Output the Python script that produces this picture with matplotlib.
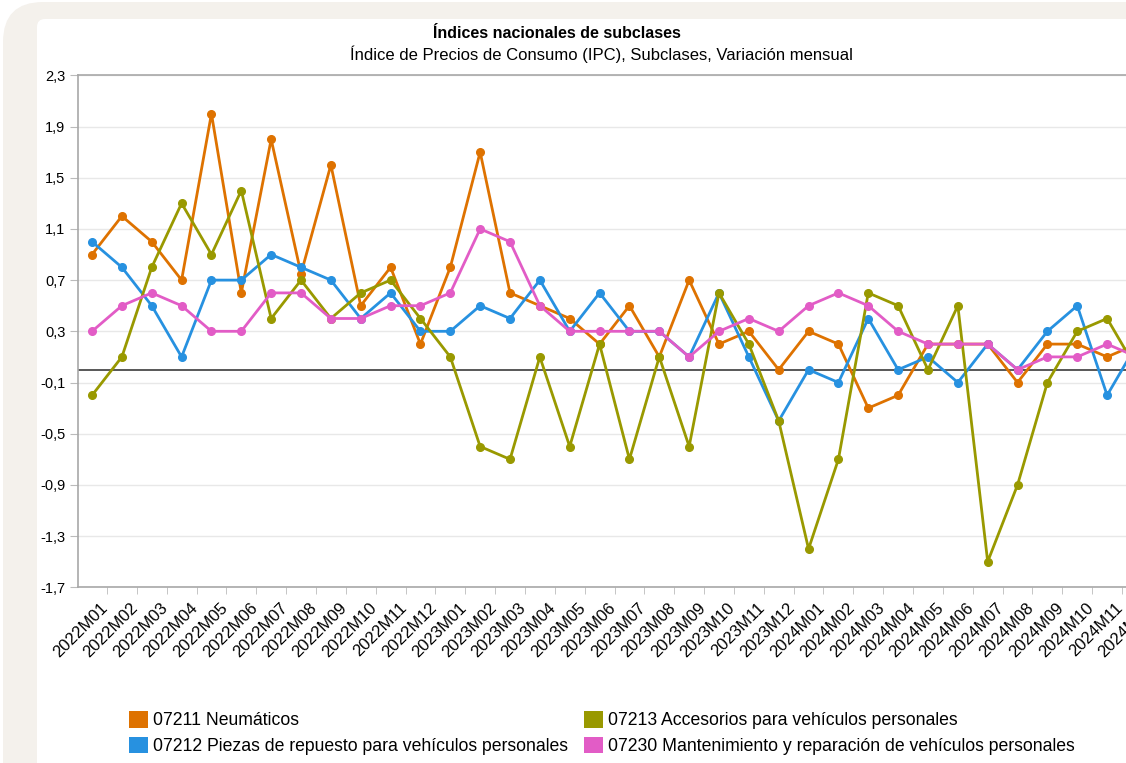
import numpy as np
import matplotlib
matplotlib.use("Agg")
import matplotlib.pyplot as plt
from matplotlib.patches import FancyBboxPatch, Patch
from matplotlib.transforms import IdentityTransform, ScaledTranslation

plt.rcParams['font.family'] = ['Liberation Sans', 'DejaVu Sans']

periodos = ['2022M01', '2022M02', '2022M03', '2022M04', '2022M05', '2022M06',
            '2022M07', '2022M08', '2022M09', '2022M10', '2022M11', '2022M12',
            '2023M01', '2023M02', '2023M03', '2023M04', '2023M05', '2023M06',
            '2023M07', '2023M08', '2023M09', '2023M10', '2023M11', '2023M12',
            '2024M01', '2024M02', '2024M03', '2024M04', '2024M05', '2024M06',
            '2024M07', '2024M08', '2024M09', '2024M10', '2024M11', '2024M12']

# variacion mensual (%)
neumaticos = [0.9, 1.2, 1.0, 0.7, 2.0, 0.6, 1.8, 0.75, 1.6, 0.5, 0.8, 0.2,
              0.8, 1.7, 0.6, 0.5, 0.4, 0.2, 0.5, 0.1, 0.7, 0.2, 0.3, 0.0,
              0.3, 0.2, -0.3, -0.2, 0.2, 0.2, 0.2, -0.1, 0.2, 0.2, 0.1, 0.2]
piezas = [1.0, 0.8, 0.5, 0.1, 0.7, 0.7, 0.9, 0.8, 0.7, 0.4, 0.6, 0.3,
          0.3, 0.5, 0.4, 0.7, 0.3, 0.6, 0.3, 0.3, 0.1, 0.6, 0.1, -0.4,
          0.0, -0.1, 0.4, 0.0, 0.1, -0.1, 0.2, 0.0, 0.3, 0.5, -0.2, 0.2]
accesorios = [-0.2, 0.1, 0.8, 1.3, 0.9, 1.4, 0.4, 0.7, 0.4, 0.6, 0.7, 0.4,
              0.1, -0.6, -0.7, 0.1, -0.6, 0.2, -0.7, 0.1, -0.6, 0.6, 0.2, -0.4,
              -1.4, -0.7, 0.6, 0.5, 0.0, 0.5, -1.5, -0.9, -0.1, 0.3, 0.4, 0.0]
mantenimiento = [0.3, 0.5, 0.6, 0.5, 0.3, 0.3, 0.6, 0.6, 0.4, 0.4, 0.5, 0.5,
                 0.6, 1.1, 1.0, 0.5, 0.3, 0.3, 0.3, 0.3, 0.1, 0.3, 0.4, 0.3,
                 0.5, 0.6, 0.5, 0.3, 0.2, 0.2, 0.2, 0.0, 0.1, 0.1, 0.2, 0.1]

series = [
    ('07211 Neumáticos', neumaticos, '#DE7200'),
    ('07212 Piezas de repuesto para vehículos personales', piezas, '#2791E0'),
    ('07213 Accesorios para vehículos personales', accesorios, '#999900'),
    ('07230 Mantenimiento y reparación de vehículos personales', mantenimiento, '#E25CC6'),
]

W, H = 1126, 763
fig = plt.figure(figsize=(W / 100, H / 100), dpi=100, facecolor='white')

# fondo beige + tarjeta blanca
fig.patches.append(FancyBboxPatch((3, -100), W + 100, H + 100 - 2,
                                  boxstyle='round,pad=0,rounding_size=40',
                                  transform=IdentityTransform(),
                                  facecolor='#F4F1EC', edgecolor='none', zorder=0))
fig.patches.append(FancyBboxPatch((37, -50), W + 50, H - 19 + 50,
                                  boxstyle='round,pad=0,rounding_size=8',
                                  transform=IdentityTransform(),
                                  facecolor='white', edgecolor='none', zorder=1))

y_top, y_bot = 75.3, 587.3
x_left, x_right = 78, 1151
ax = fig.add_axes([x_left / W, (H - y_bot) / H, (x_right - x_left) / W, (y_bot - y_top) / H])
ax.set_zorder(5)
ax.set_facecolor('none')

x = np.arange(len(periodos))
for nombre, vals, color in series:
    ax.plot(x, vals, color=color, lw=2.0, marker='o', ms=5.5, label=nombre,
            solid_joinstyle='round', zorder=3)

ax.axhline(0, color='#4a4a4a', lw=1.3, zorder=2)

ax.set_ylim(-1.7, 2.3)
ax.set_xlim(-0.47, len(periodos) - 0.53)
yt = np.round(np.arange(-1.7, 2.31, 0.4), 1)
ax.set_yticks(yt)
ax.set_yticklabels([f"{v:.1f}".replace('.', ',') for v in yt], fontsize=10.5)
ax.grid(axis='y', color='#E8E8E8', lw=1.0, zorder=0)

ax.set_xticks(x)
ax.set_xticklabels(periodos, rotation=45, ha='right', rotation_mode='anchor', fontsize=12)
ax.set_xticks(x[:-1] + 0.5, minor=True)
ax.tick_params(axis='x', which='major', length=0, pad=9)
ax.tick_params(axis='x', which='minor', length=5, color='#BBBBBB')
ax.tick_params(axis='y', length=6, color='#BBBBBB', pad=3)
off = ScaledTranslation(6 / 72, 0, fig.dpi_scale_trans)
for lab in ax.get_xticklabels():
    lab.set_transform(lab.get_transform() + off)

for s in ['left', 'bottom', 'top']:
    ax.spines[s].set_color('#A8A8A8')
    ax.spines[s].set_linewidth(1.2)
ax.spines['right'].set_visible(False)

fig.text(557 / W, 1 - 33 / H, 'Índices nacionales de subclases', ha='center', va='center',
         fontsize=11.5, fontweight='bold')
fig.text(601 / W, 1 - 54 / H, 'Índice de Precios de Consumo (IPC), Subclases, Variación mensual',
         ha='center', va='center', fontsize=12)

handles = [Patch(facecolor=c, edgecolor='none') for _, _, c in series]
fig.legend(handles, [n for n, _, _ in series], ncol=2, loc='upper left',
           bbox_to_anchor=(129 / W, 1 - 711 / H), frameon=False, fontsize=12.7,
           handlelength=1.1, handleheight=1.1, handletextpad=0.25,
           columnspacing=0.9, labelspacing=0.4, borderpad=0, borderaxespad=0)

fig.savefig('out.png', dpi=100, facecolor=fig.get_facecolor())
